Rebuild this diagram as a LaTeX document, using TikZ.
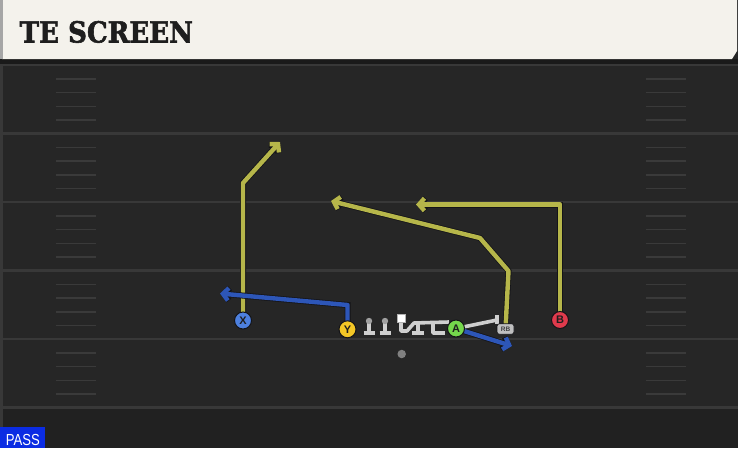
\documentclass[tikz,border=0pt]{standalone}
\usepackage{fontspec}
\setmainfont{Liberation Sans}
\newfontfamily\titlefont[FakeBold=2]{DejaVu Serif Bold}
\usetikzlibrary{arrows.meta}
\definecolor{fieldbg}{HTML}{262626}
\definecolor{fieldlow}{HTML}{212121}
\definecolor{yardc}{HTML}{383838}
\definecolor{hashc}{HTML}{3A3A3A}
\definecolor{cream}{HTML}{F4F2EC}
\definecolor{band}{HTML}{1A1A1A}
\definecolor{titlec}{HTML}{1E1E1E}
\definecolor{outl}{HTML}{141418}
\definecolor{routeY}{HTML}{B6B64A}
\definecolor{routeB}{HTML}{2D56B8}
\definecolor{pX}{HTML}{4D80DE}
\definecolor{pY}{HTML}{F4C726}
\definecolor{pA}{HTML}{74D64C}
\definecolor{pB}{HTML}{E03A4C}
\definecolor{blk}{HTML}{CFCFCF}
\definecolor{blkhead}{HTML}{A0A0A0}
\definecolor{passblue}{HTML}{0B2CE3}
\pgfdeclarelayer{fieldl}
\pgfdeclarelayer{rt}
\pgfsetlayers{fieldl,rt,main}
\begin{document}
\begin{tikzpicture}[x=1pt,y=-1pt,
  yard/.style={draw=yardc, line width=2.2pt},
  hashm/.style={draw=hashc, line width=1.6pt},
  routebase/.style={line width=4.4pt, line join=round,
     -{Straight Barb[length=5.5pt,width=12.5pt]}},
  yroute/.style={routebase, draw=routeY, preaction={draw=outl, line width=6pt}},
  broute/.style={routebase, draw=routeB, preaction={draw=outl, line width=6pt}},
  player/.style={circle, draw=outl, line width=1pt, minimum size=17pt, inner sep=0pt,
     font=\bfseries\fontsize{11}{11}\selectfont, text=titlec},
  blockln/.style={draw=blk, line width=3.6pt, line join=round},
  headdot/.style={fill=blkhead}
]
\useasboundingbox (0,0) rectangle (738,448);
\begin{pgfonlayer}{fieldl}
  % field
  \fill[fieldbg] (0,0) rectangle (738,408);
  \fill[fieldlow] (0,408) rectangle (738,448);
  \fill[yardc] (0,59) rectangle (2.5,448);
  % yard lines
  \foreach \L in {65,133.5,202,270.5,339,407.5} {
    \draw[yard] (2,\L) -- (738,\L);
  }
  % hash marks
  \foreach \L in {65,133.5,202,270.5,339} {
    \foreach \d in {14,27.5,41.5,55} {
      \draw[hashm] (56,\L+\d) -- (96,\L+\d);
      \draw[hashm] (646,\L+\d) -- (686,\L+\d);
    }
  }
  % header
  \fill[band] (0,59) rectangle (738,64);
  \fill[cream] (2,0) -- (737,0) -- (737,51) -- (732,59) -- (2,59) -- cycle;
  \fill[black!35] (0,0) rectangle (2.5,59);
\end{pgfonlayer}

\node[anchor=base west, inner sep=0pt, text=titlec,
      font=\titlefont\fontsize{29}{29}\selectfont] (title) at (19.5,42.5)
      {\scalebox{0.9}[1]{TE SCREEN}};

% players
\node[player, fill=pX] (X) at (243,320.5) {X};
\node[player, fill=pY] (Y) at (347.5,329.3) {Y};
\node[player, fill=pA] (A) at (456,328.5) {A};
\node[player, fill=pB] (B) at (560,320) {B};
\node[draw=outl, line width=0.6pt, fill=black!25, rounded corners=2.5pt, minimum width=17pt,
      minimum height=10.5pt, inner sep=0pt, text=black!75,
      font=\bfseries\fontsize{6.5}{6.5}\selectfont] (RB) at (505.5,329) {RB};
\node[circle, fill=black!50, minimum size=8.5pt, inner sep=0pt] (ball) at (401.7,354) {};
\node[draw=black!30, line width=0.5pt, fill=white, minimum size=8pt, inner sep=0pt] (C) at (401,318) {};

% route waypoints
\coordinate (x1) at (243,183);
\coordinate (x2) at (280,142);
\coordinate (r1) at (508.5,271);
\coordinate (r2) at (480,238);
\coordinate (r3) at (331,201);
\coordinate (b1) at (560,204.5);
\coordinate (b2) at (416,204.5);
\coordinate (y1) at (347.5,305);
\coordinate (y2) at (220,293.5);
\coordinate (a1) at (512,346);
% blocking waypoints
\coordinate (lt1) at (369,321);
\coordinate (lt2) at (369,332);
\coordinate (lg1) at (385,321);
\coordinate (lg2) at (385,332);
\coordinate (c1) at (401,331);
\coordinate (c2) at (407,331);
\coordinate (c3) at (414,323);
\coordinate (c4) at (449,322);
\coordinate (rg1) at (418,323);
\coordinate (rg2) at (418,332);
\coordinate (rt1) at (433,323);
\coordinate (rt2) at (433,333);
\coordinate (rt3) at (445,333);
\coordinate (te1) at (497,320);

\begin{pgfonlayer}{rt}
  \draw[yroute] (X.center) -- (x1) -- (x2);
  \draw[yroute] (RB.center) -- (r1) -- (r2) -- (r3);
  \draw[yroute] (B.center) -- (b1) -- (b2);
  \draw[broute] (Y.center) -- (y1) -- (y2);
  \draw[broute] (A.center) -- (a1);
  % blocking
  \draw[blockln] (lt1) -- (lt2);
  \draw[blockln] ([xshift=-5.5pt]lt2 |- 0,333) -- ([xshift=5.5pt]lt2 |- 0,333);
  \draw[blockln] (lg1) -- (lg2);
  \draw[blockln] ([xshift=-5.5pt]lg2 |- 0,333) -- ([xshift=5.5pt]lg2 |- 0,333);
  \fill[headdot] (lt1) circle (3.2pt);
  \fill[headdot] (lg1) circle (3.2pt);
  \draw[blockln] (C.south) -- (c1) -- (c2) -- (c3) -- (c4);
  \draw[blockln] (rg1) -- (rg2);
  \draw[blockln] ([xshift=-6pt]rg2 |- 0,333) -- ([xshift=6pt]rg2 |- 0,333);
  \draw[blockln] (rt1) -- (rt2) -- (rt3);
  \draw[blockln] (A.center) -- (te1);
  \draw[blockln] ([yshift=5pt]te1) -- ([yshift=-4pt]te1);
\end{pgfonlayer}

% PASS tag
\fill[passblue] (0,427) rectangle (45,448);
\node[anchor=base, inner sep=0pt, text=white, font=\fontsize{16}{16}\selectfont] (pass) at (22.8,445)
  {\scalebox{0.82}[1]{PASS}};
\end{tikzpicture}
\end{document}
